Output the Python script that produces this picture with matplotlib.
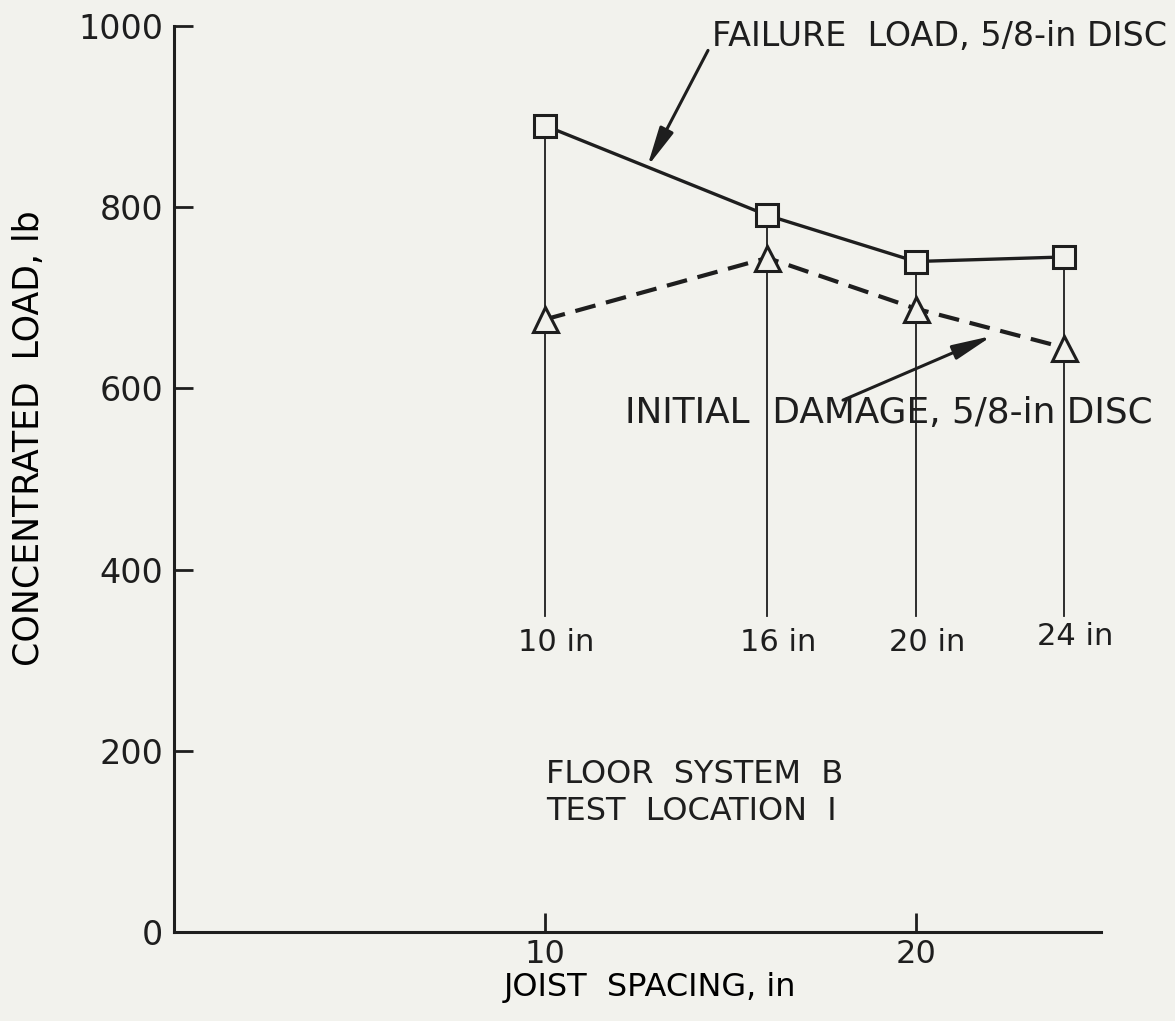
import numpy as np
import matplotlib.pyplot as plt

# joist spacing (in) and concentrated loads (lb), 5/8-in disc
spacing = [10, 16, 20, 24]
failure_load = [890, 791, 740, 745]
initial_damage = [676, 744, 688, 645]
spacing_labels = ["10 in", "16 in", "20 in", "24 in"]
drop_bottom = 349

bg = "#f2f2ed"
ink = "#1e1e1e"
plt.rcParams["font.family"] = "DejaVu Sans"
plt.rcParams["text.color"] = ink

fig = plt.figure(figsize=(11.75, 10.21), dpi=100, facecolor=bg)
ax = fig.add_axes([0.1481, 0.0872, 0.789, 0.8874])
ax.set_facecolor(bg)

# vertical drop lines from each spacing down to its label
for x, f, d in zip(spacing, failure_load, initial_damage):
    ax.plot([x, x], [max(f, d), drop_bottom], color=ink, lw=1.3, zorder=1)

ax.plot(spacing, failure_load, color=ink, lw=2.4, zorder=2,
        marker="s", ms=16, mfc=bg, mec=ink, mew=2.2)
ax.plot(spacing, initial_damage, color=ink, lw=3.0, zorder=2,
        linestyle=(0, (5, 2.6)),
        marker="^", ms=18, mfc=bg, mec=ink, mew=2.2)

for x, lab in zip(spacing, spacing_labels):
    y = 326 if x == 24 else 320
    ax.text(x + 0.3, y, lab, ha="center", va="center", fontsize=22)

# annotations with arrows onto each curve
arrow = dict(arrowstyle="-|>,head_length=0.8,head_width=0.15",
             color=ink, lw=2.2, mutation_scale=30, shrinkA=0, shrinkB=0)
fx = 12.76
ax.annotate("", xy=(fx, np.interp(fx, spacing, failure_load)),
            xytext=(14.4, 973), arrowprops=arrow)
ax.text(14.5, 988, "FAILURE  LOAD, 5/8-in DISC", ha="left", va="center",
        fontsize=24)

ix = 22.06
ax.annotate("", xy=(ix, np.interp(ix, spacing, initial_damage) - 8),
            xytext=(18.04, 587), arrowprops=arrow)
ax.text(12.16, 573, "INITIAL  DAMAGE, 5/8-in DISC", ha="left", va="center",
        fontsize=25.8)

ax.text(10.03, 153, "FLOOR  SYSTEM  B\nTEST  LOCATION  I", ha="left",
        va="center", fontsize=23, linespacing=1.25)

ax.set_xlim(0, 25)
ax.set_ylim(0, 1000)
ax.set_xticks([10, 20])
ax.set_yticks(range(0, 1001, 200))
ax.tick_params(axis="both", direction="in", colors=ink, labelsize=24,
               width=2, length=14)
ax.tick_params(axis="x", pad=5, labelsize=23)
ax.tick_params(axis="y", pad=8)

for side in ["top", "right"]:
    ax.spines[side].set_visible(False)
for side in ["left", "bottom"]:
    ax.spines[side].set_linewidth(2.2)
    ax.spines[side].set_color(ink)

ax.set_xlabel("JOIST  SPACING, in", fontsize=23)
ax.xaxis.set_label_coords(0.513, -0.044)
ax.set_ylabel("CONCENTRATED  LOAD, lb", fontsize=25)
ax.yaxis.set_label_coords(-0.138, 0.545)

fig.savefig("out.png", dpi=100, facecolor=bg)
